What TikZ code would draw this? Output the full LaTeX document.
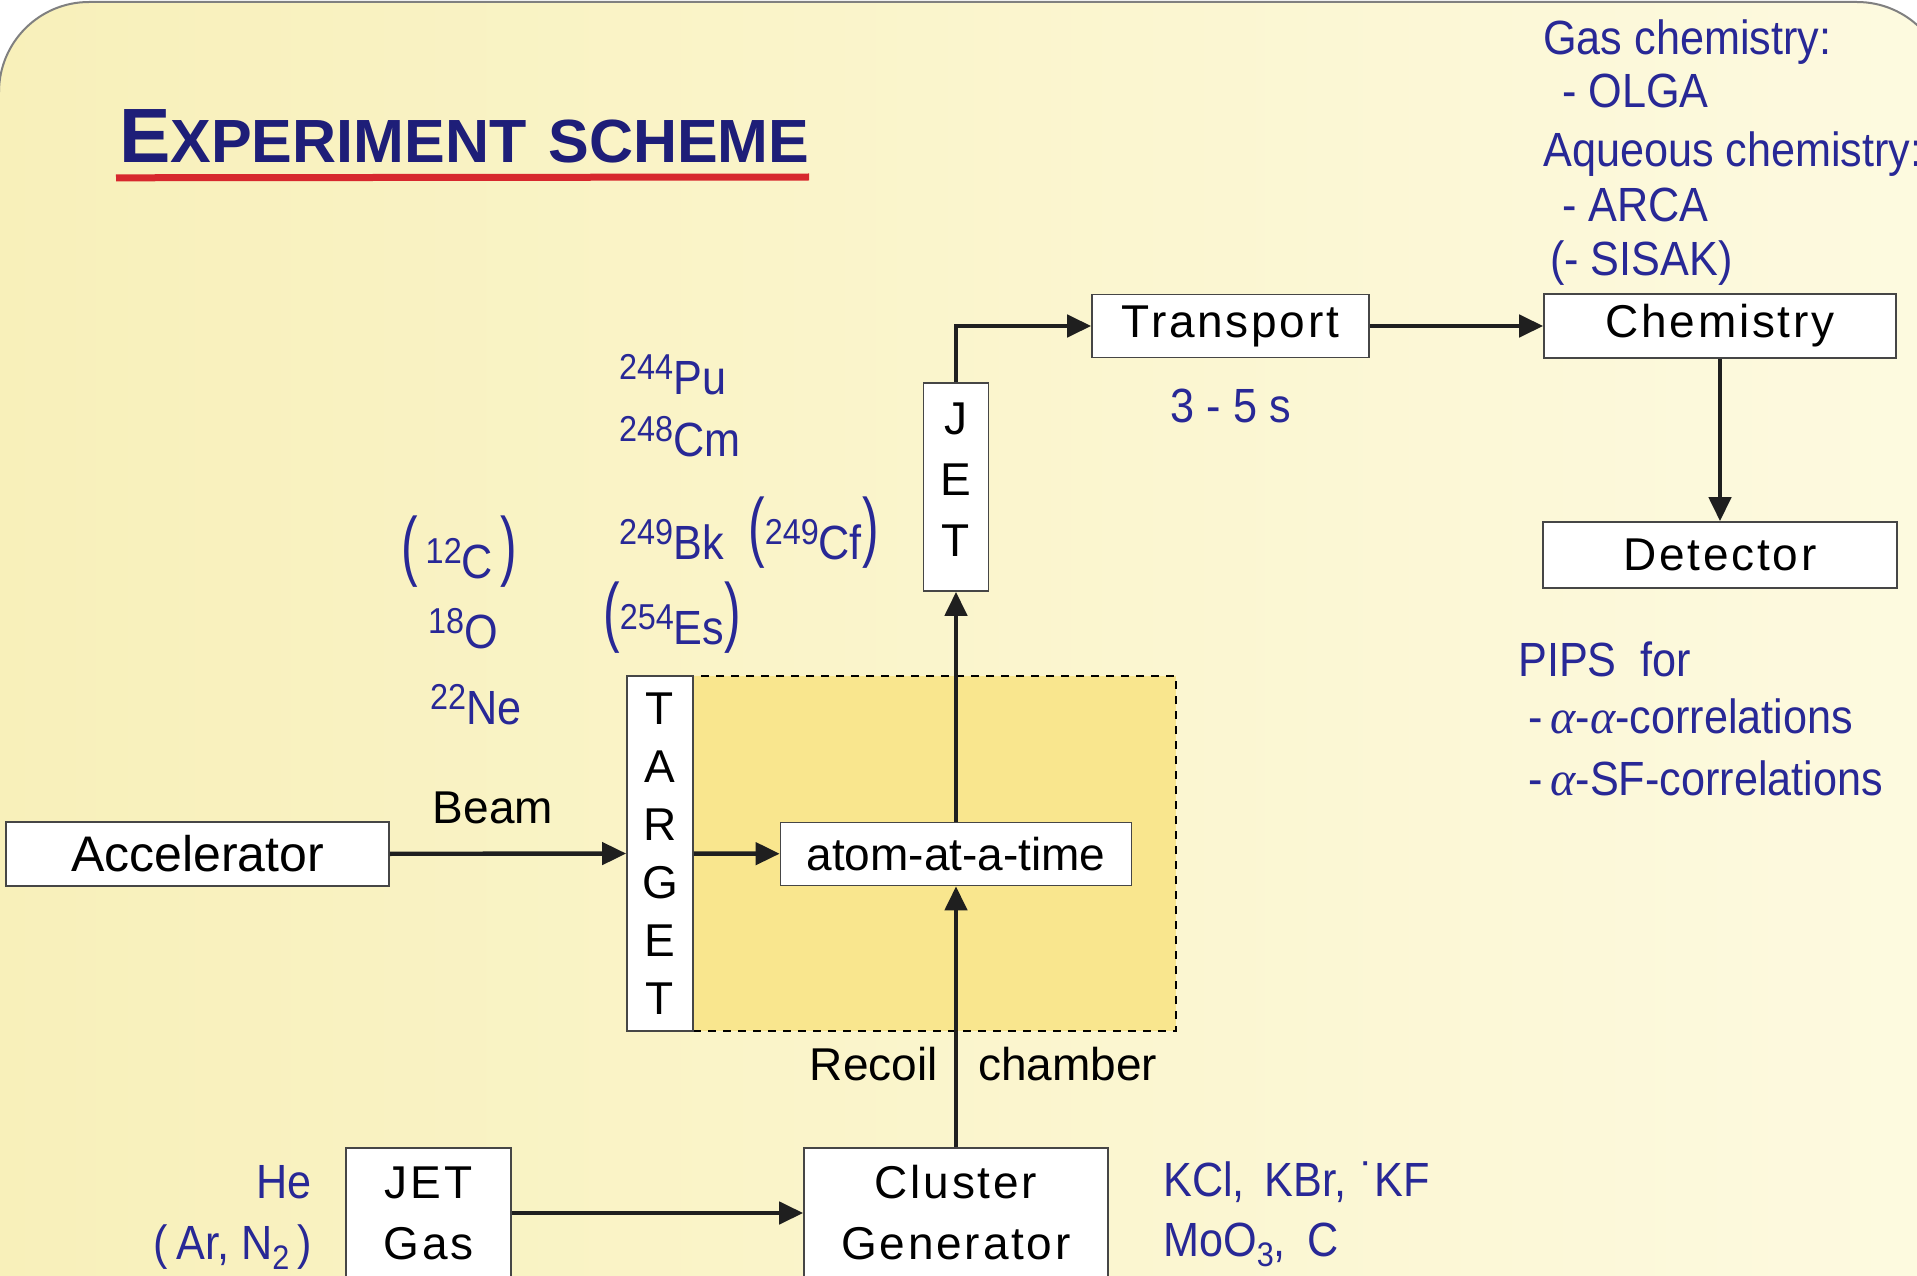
\documentclass[tikz,border=0pt]{standalone}
\usepackage{fontspec}
\setmainfont{Liberation Sans}
\newfontfamily\grk{Liberation Serif}
\newfontfamily\bluefont{Liberation Sans}[FakeStretch=0.9]
\usetikzlibrary{arrows.meta}
\definecolor{bgA}{RGB}{248,240,186}
\definecolor{bgB}{RGB}{253,250,224}
\definecolor{gold}{RGB}{249,230,142}
\definecolor{nblue}{RGB}{40,40,150}
\definecolor{tblue}{RGB}{30,30,120}
\definecolor{ured}{RGB}{215,40,45}
\definecolor{boxline}{RGB}{70,70,70}
\newcommand\isoup[1]{\raisebox{15pt}{\fontsize{36}{36}\selectfont #1}}
\newcommand\isodn[1]{\raisebox{-10pt}{\fontsize{34}{34}\selectfont #1}}
\newcommand\bigpar[1]{\raisebox{7pt}{\scalebox{1.15}[1.6]{#1}}}
\tikzset{
  stepbox/.style={draw=boxline, line width=1.6pt, fill=white, inner sep=0pt},
  boxfont/.style={font=\fontsize{46}{58}\selectfont},
  spacedfont/.style={font=\fontsize{46}{61}\selectfont\addfontfeature{LetterSpace=6}},
  btxt/.style={text=nblue, inner sep=0pt, anchor=base west, font=\bluefont\fontsize{48}{48}\selectfont},
  ktxt/.style={text=black, inner sep=0pt, font=\fontsize{46}{46}\selectfont},
  arr/.style={line width=4.4pt, draw=black!88, -{Triangle[length=24pt,width=22pt]}},
}
\begin{document}
\begin{tikzpicture}[x=1pt,y=-1pt]
\useasboundingbox (0,0) rectangle (1917,1276);
\clip (0,0) rectangle (1917,1276);
\fill[white] (0,0) rectangle (1917,1276);
\shade[left color=bgA, right color=bgB, draw=gray, line width=2pt, rounded corners=90pt] (-1,2) rectangle (1947,1400);

% title
\node[anchor=base west, inner sep=0pt, text=tblue, font=\bfseries] (title) at (119,163)
  {\fontsize{77}{77}\selectfont E\fontsize{61}{61}\selectfont XPERIMENT\hspace{22pt}SCHEME};
\draw[ured, line width=7pt] (title.south west) ++(-3,14) coordinate (ul1) -- (809,177) coordinate (ul2);

% recoil chamber
\node[draw=black, dashed, dash pattern=on 8pt off 7pt, line width=2.6pt, fill=gold, inner sep=0pt,
  minimum width=483pt, minimum height=355pt] (chamber) at (934.5,853.5) {};

% boxes
\node[stepbox, font=\fontsize{50}{50}\selectfont, minimum width=383pt, minimum height=64pt] (acc) at (197.5,854) {Accelerator};
\node[stepbox, boxfont, align=center, minimum width=66pt, minimum height=355pt] (target) at (660,853.5) {T\\A\\R\\G\\E\\T};
\node[stepbox, boxfont, minimum width=351pt, minimum height=63pt] (atom) at (956,854) {atom-at-a-time};
\node[stepbox, font=\fontsize{46}{61}\selectfont, align=center, text depth=14pt, minimum width=65pt, minimum height=208pt] (jet) at (956,487) {J\\E\\T};
\node[stepbox, spacedfont, minimum width=277pt, minimum height=63pt] (transport) at (1230.5,326) {Transport};
\node[stepbox, spacedfont, minimum width=352pt, minimum height=64pt] (chem) at (1720,326) {Chemistry};
\node[stepbox, spacedfont, minimum width=354pt, minimum height=66pt] (det) at (1720,555) {Detector};
\node[stepbox, spacedfont, align=center, minimum width=165pt, minimum height=130pt] (jetgas) at (428.5,1213) {JET\\Gas};
\node[stepbox, spacedfont, align=center, minimum width=304pt, minimum height=130pt] (cluster) at (956,1213) {Cluster\\Generator};

% connectors
\draw[arr] (acc) -- (target);
\draw[arr] (target) -- (atom);
\draw[arr] (cluster) -- (atom);
\draw[arr] (atom) -- (jet);
\draw[arr] (jet.north) |- (transport.west);
\draw[arr] (transport) -- (chem);
\draw[arr] (chem) -- (det);
\draw[arr] (jetgas) -- (cluster);

% black labels
\node[ktxt, anchor=base] (beam) at (493,823) {Beam};
\node[ktxt, anchor=base east] (recoil) at (938,1080) {Recoil};
\node[ktxt, anchor=base west] (chamberlbl) at (978,1080) {chamber};

% blue labels
\node[btxt, anchor=base] (time) at (1231,422) {3 - 5 s};
\node[btxt] (g1) at (1543,55) {Gas chemistry:};
\node[btxt] (g2) at (1562,108) {- OLGA};
\node[btxt] (g3) at (1543,167) {Aqueous chemistry:};
\node[btxt] (g4) at (1562,222) {- ARCA};
\node[btxt] (g5) at (1550,276) {(- SISAK)};
\node[btxt] (p1) at (1518,676) {PIPS\hspace{24pt}for};
\node[btxt] (p2) at (1528,733) {-\,{\grk\itshape α}-{\grk\itshape α}-correlations};
\node[btxt] (p3) at (1528,795) {-\,{\grk\itshape α}-SF-correlations};

\node[btxt] (pu) at (619,394) {\isoup{244}Pu};
\node[btxt] (cm) at (619,456) {\isoup{248}Cm};
\node[btxt] (bk) at (619,559) {\isoup{249}Bk};
\node[btxt] (cf) at (748,559) {\bigpar{(}\isoup{249}Cf\bigpar{)}};
\node[btxt] (es) at (603,644) {\bigpar{(}\isoup{254}Es\bigpar{)}};
\node[btxt] (c12) at (401,578) {\bigpar{(}\,\isoup{12}C\,\bigpar{)}};
\node[btxt] (o18) at (428,648) {\isoup{18}O};
\node[btxt] (ne) at (430,724) {\isoup{22}Ne};

\node[btxt, anchor=base east] (he) at (312,1198) {He};
\node[btxt, anchor=base east] (ar) at (312,1259) {(\,Ar, N\isodn{2}\,)};
\node[btxt] (salts) at (1163,1196) {KCl,\hspace{20pt}KBr,\hspace{14pt}˙KF};
\node[btxt] (moo) at (1163,1256) {MoO\isodn{3},\hspace{22pt}C};
\end{tikzpicture}
\end{document}
